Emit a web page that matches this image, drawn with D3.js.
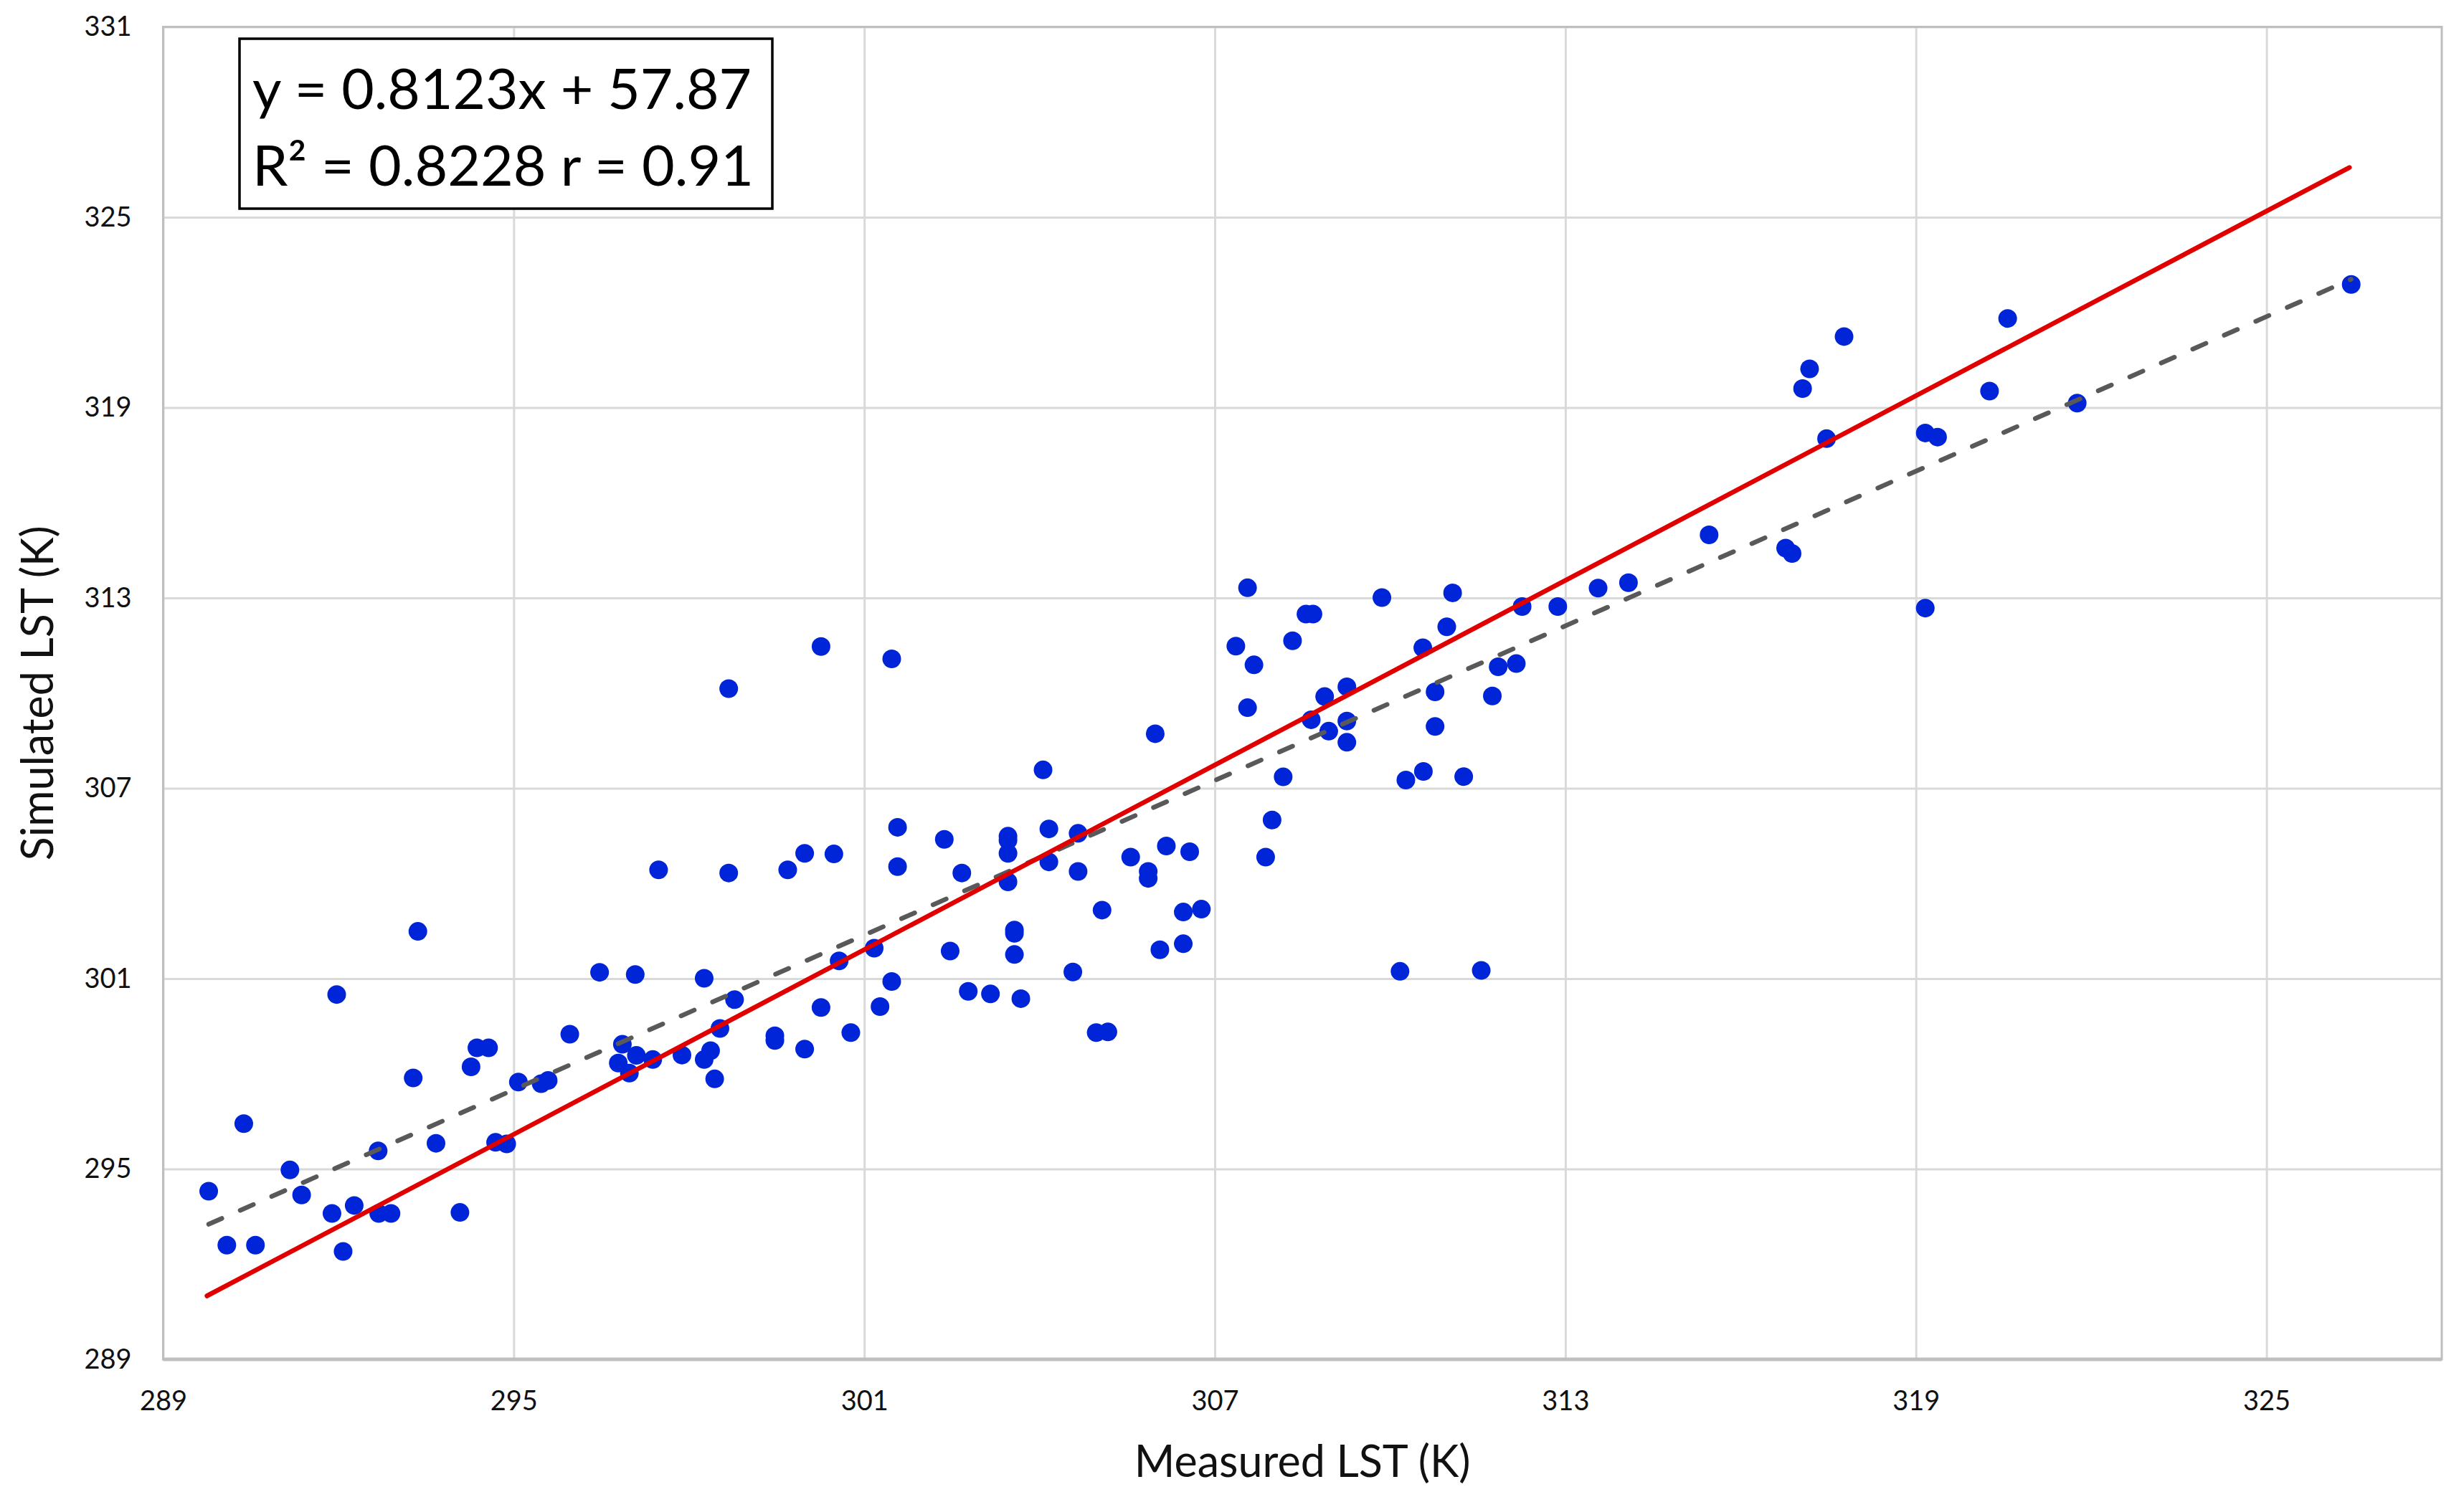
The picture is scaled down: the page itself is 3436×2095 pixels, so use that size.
<!DOCTYPE html>
<html>
<head>
<meta charset="utf-8">
<script src="https://cdnjs.cloudflare.com/ajax/libs/d3/7.8.5/d3.min.js"></script>
<style>
  html, body { margin: 0; padding: 0; background: #fff; }
  svg { display: block; font-family: Lato, "Open Sans", sans-serif; }
</style>
</head>
<body>
<svg id="chart"></svg>
<script>
// measured LST (x) and simulated LST (y)
var measured = [
  289.78, 290.09, 290.58, 290.38, 291.17, 291.37, 291.89, 292.08, 292.27, 291.97,
  292.69, 292.90, 292.68, 293.36, 293.28, 293.67, 294.08, 294.27, 294.37, 294.57,
  294.69, 294.88, 295.08, 295.47, 295.59, 295.96, 296.47, 297.08, 297.48, 296.79,
  296.86, 296.98, 297.10, 297.38, 297.88, 298.26, 298.26, 298.37, 298.44, 298.53,
  298.68, 298.68, 298.78,
  299.47, 299.47, 299.69, 299.98, 299.98, 300.26, 300.26, 300.48, 300.57, 300.77,
  301.17, 301.27, 301.47, 301.47, 301.57, 301.57, 302.37, 302.47, 302.67, 302.78,
  303.16, 303.46, 303.46, 303.46, 303.46, 303.57, 303.57, 303.57, 303.68, 304.06,
  304.16, 304.16, 304.57, 304.66, 304.66, 304.97, 305.17, 305.07, 305.56, 305.86,
  305.86, 305.98, 306.06, 306.17, 306.46, 306.46, 306.57, 306.77,
  307.36, 307.56, 307.67, 307.56, 308.17, 307.98, 307.87, 308.33, 308.56, 308.68,
  308.88, 309.26, 308.65, 309.26, 308.95, 309.26, 309.86, 310.17, 310.27, 310.57,
  310.56, 310.77, 310.77, 310.97, 311.07, 311.26, 311.56, 311.75, 311.85, 312.16,
  312.26, 312.87, 313.56, 314.08, 315.46, 316.77, 316.88, 317.06, 317.18, 317.47,
  317.77, 319.16, 319.37, 319.16, 320.26, 320.57, 321.76, 326.45
];
var simulated = [
  294.30, 292.60, 292.60, 296.43, 294.97, 294.18, 293.60, 292.40, 293.85, 300.50,
  293.60, 293.60, 295.57, 302.49, 297.87, 295.81, 293.63, 298.22, 298.82, 298.82,
  295.84, 295.79, 297.74, 297.69, 297.79, 299.25, 301.20, 301.13, 304.43, 298.34,
  298.93, 298.02, 298.58, 298.45, 298.59, 301.01, 298.45, 298.73, 297.84, 299.43,
  310.14, 304.33, 300.34,
  299.20, 299.05, 304.43, 304.95, 298.78, 311.47, 300.09, 304.93, 301.56, 299.30,
  301.96, 300.12, 311.08, 300.91, 305.77, 304.53, 305.39, 301.87, 304.33, 300.60,
  300.52, 305.49, 305.36, 304.95, 304.05, 302.53, 302.43, 301.76, 300.37, 307.58,
  305.72, 304.68, 301.21, 305.58, 304.38, 299.30, 299.32, 303.16, 304.83, 304.38,
  304.16, 308.72, 301.91, 305.18, 303.10, 302.10, 305.00, 303.19,
  311.48, 313.32, 310.89, 309.54, 307.36, 306.00, 304.83, 311.65, 312.49, 312.49,
  309.89, 310.20, 309.16, 309.12, 308.80, 308.45, 313.01, 301.23, 307.26, 307.53,
  311.43, 310.04, 308.95, 312.09, 313.16, 307.37, 301.26, 309.91, 310.83, 310.93,
  312.73, 312.73, 313.31, 313.48, 314.99, 314.57, 314.40, 319.60, 320.22, 318.02,
  321.24, 318.20, 318.07, 312.68, 319.52, 321.81, 319.14, 322.88
];

// red reference line end points (measured, simulated)
var refX = [289.75, 326.42];
var refY = [291.0, 326.57];

// linear trend from the equation in the box
var slope = 0.8123;
var intercept = 57.87;

var xTicks = [289, 295, 301, 307, 313, 319, 325];
var yTicks = [289, 295, 301, 307, 313, 319, 325, 331];

var eqLines = ["y = 0.8123x + 57.87", "R\u00b2 = 0.8228 r = 0.91"];

(function(){
  var width = 3436, height = 2095;
  var pLeft = 227.5, pRight = 3405, pTop = 37.5, pBottom = 1896;

  var svg = d3.select("#chart")
    .attr("width", width)
    .attr("height", height);

  var x = d3.scaleLinear().domain([289, 328]).range([pLeft, pRight]);
  var y = d3.scaleLinear().domain([289, 331]).range([pBottom, pTop]);

  // gridlines
  svg.append("g")
    .attr("transform", "translate(0," + pBottom + ")")
    .call(d3.axisBottom(x).tickValues(xTicks).tickSize(-(pBottom - pTop)).tickFormat(""))
    .call(function(g){
      g.select(".domain").remove();
      g.selectAll("line").attr("stroke", "#d9d9d9").attr("stroke-width", 3);
    });

  svg.append("g")
    .attr("transform", "translate(" + pLeft + ",0)")
    .call(d3.axisLeft(y).tickValues(yTicks).tickSize(-(pRight - pLeft)).tickFormat(""))
    .call(function(g){
      g.select(".domain").remove();
      g.selectAll("line").attr("stroke", "#d9d9d9").attr("stroke-width", 3);
    });

  // plot border
  svg.append("rect")
    .attr("x", pLeft)
    .attr("y", pTop)
    .attr("width", pRight - pLeft)
    .attr("height", pBottom - pTop)
    .attr("fill", "none")
    .attr("stroke", "#bfbfbf")
    .attr("stroke-width", 3);

  svg.append("line")
    .attr("x1", pLeft).attr("x2", pRight)
    .attr("y1", pBottom).attr("y2", pBottom)
    .attr("stroke", "#bfbfbf")
    .attr("stroke-width", 5);

  // tick labels
  svg.append("g")
    .attr("transform", "translate(0," + pBottom + ")")
    .call(d3.axisBottom(x).tickValues(xTicks).tickSize(0).tickPadding(44).tickFormat(d3.format("d")))
    .call(function(g){
      g.select(".domain").remove();
      g.selectAll("text")
        .attr("font-family", "Lato, sans-serif")
        .attr("font-size", 38)
        .attr("fill", "#111");
    });

  svg.append("g")
    .attr("transform", "translate(" + pLeft + ",0)")
    .call(d3.axisLeft(y).tickValues(yTicks).tickSize(0).tickPadding(44).tickFormat(d3.format("d")))
    .call(function(g){
      g.select(".domain").remove();
      g.selectAll("text")
        .attr("font-family", "Lato, sans-serif")
        .attr("font-size", 38)
        .attr("fill", "#111");
    });

  // points
  var points = measured.map(function(d, i){ return {m: d, s: simulated[i]}; });

  svg.append("g")
    .selectAll("circle")
    .data(points).enter()
    .append("circle")
    .attr("cx", function(d){ return x(d.m); })
    .attr("cy", function(d){ return y(d.s); })
    .attr("r", 13)
    .attr("fill", "#0024d8");

  // trend line (dashed) over the data range
  var ext = d3.extent(measured);
  svg.append("line")
    .attr("x1", x(ext[0]))
    .attr("y1", y(slope * ext[0] + intercept))
    .attr("x2", x(ext[1]))
    .attr("y2", y(slope * ext[1] + intercept))
    .attr("stroke", "#595959")
    .attr("stroke-width", 6.5)
    .attr("stroke-linecap", "round")
    .attr("stroke-dasharray", "20,28");

  // red reference line
  svg.append("line")
    .attr("x1", x(refX[0]))
    .attr("y1", y(refY[0]))
    .attr("x2", x(refX[1]))
    .attr("y2", y(refY[1]))
    .attr("stroke", "#e00000")
    .attr("stroke-width", 6.5)
    .attr("stroke-linecap", "round");

  // equation box
  svg.append("rect")
    .attr("x", 334)
    .attr("y", 54)
    .attr("width", 743)
    .attr("height", 237)
    .attr("fill", "#fff")
    .attr("stroke", "#000")
    .attr("stroke-width", 3.5);

  svg.append("g")
    .selectAll("text")
    .data(eqLines).enter()
    .append("text")
    .attr("x", 352)
    .attr("y", function(d, i){ return 152 + i * 107; })
    .attr("font-size", 78)
    .attr("fill", "#000")
    .attr("textLength", function(d, i){ return i === 0 ? 696 : 699; })
    .attr("lengthAdjust", "spacingAndGlyphs")
    .text(function(d){ return d; });

  // axis titles
  svg.append("text")
    .attr("x", (pLeft + pRight) / 2)
    .attr("y", 2060)
    .attr("text-anchor", "middle")
    .attr("font-size", 61)
    .attr("fill", "#111")
    .text("Measured LST (K)");

  svg.append("text")
    .attr("transform", "translate(74," + ((pTop + pBottom) / 2) + ") rotate(-90)")
    .attr("text-anchor", "middle")
    .attr("font-size", 61)
    .attr("fill", "#111")
    .text("Simulated LST (K)");
})();
</script>
</body>
</html>
